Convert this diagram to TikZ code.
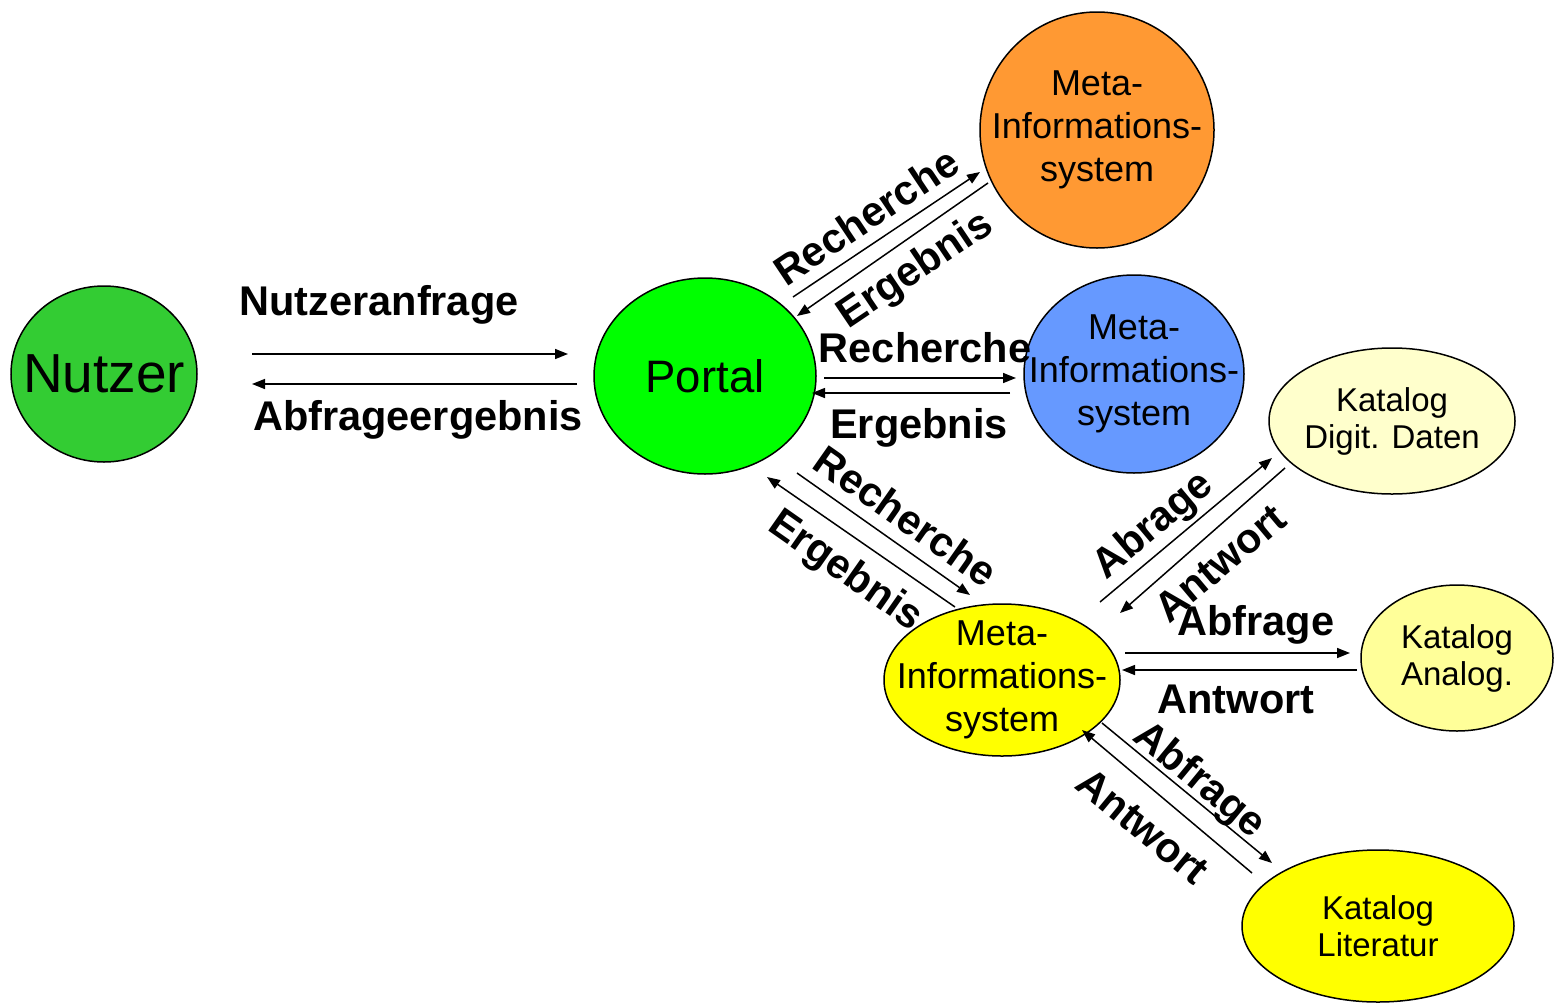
\documentclass[tikz,border=0pt]{standalone}
\usepackage{fontspec}
\setmainfont{Liberation Sans}
\usetikzlibrary{shapes.geometric,arrows.meta}
\definecolor{cNutzer}{HTML}{33CC33}
\definecolor{cPortal}{HTML}{00FF00}
\definecolor{cOrange}{HTML}{FF9933}
\definecolor{cBlue}{HTML}{6699FF}
\definecolor{cYellow}{HTML}{FFFF00}
\definecolor{cPale}{HTML}{FFFFCC}
\definecolor{cLight}{HTML}{FFFF99}
\tikzset{
  blob/.style={ellipse, draw=black, line width=1.5pt, inner sep=0pt},
  txt/.style={align=center, inner sep=0pt},
  metatext/.style={txt, font=\fontsize{36}{43}\selectfont},
  kattext/.style={txt, font=\fontsize{33}{37}\selectfont},
  lbl/.style={font=\bfseries\fontsize{41.5}{46}\selectfont, inner sep=0pt},
  conn/.style={line width=1.5pt, -{Triangle[length=13pt,width=10pt]}},
}
\begin{document}
\begin{tikzpicture}[x=1pt,y=-1pt]
\useasboundingbox (0,0) rectangle (1556,1002);
% shapes
\node[blob, fill=cNutzer, minimum width=186pt, minimum height=176pt] (nutzer) at (104,374) {};
\node[blob, fill=cPortal, minimum width=222pt, minimum height=196pt] (portal) at (705,376) {};
\node[blob, fill=cOrange, minimum width=234pt, minimum height=236pt] (mis1) at (1097,130) {};
\node[blob, fill=cBlue, minimum width=220pt, minimum height=198pt] (mis2) at (1134,374) {};
\node[blob, fill=cYellow, minimum width=236pt, minimum height=152pt] (mis3) at (1002,680) {};
\node[blob, fill=cPale, minimum width=246pt, minimum height=146pt] (kdig) at (1392,421) {};
\node[blob, fill=cLight, minimum width=192pt, minimum height=146pt] (kana) at (1457,658) {};
\node[blob, fill=cYellow, minimum width=272pt, minimum height=152pt] (klit) at (1378,926) {};
% texts
\node[txt, font=\fontsize{55}{60}\selectfont] (nutzer-t) at (nutzer) {Nutzer};
\node[txt, font=\fontsize{45.5}{52}\selectfont] (portal-t) at (portal) {Portal};
\node[metatext] (mis1-t) at (mis1) {Meta-\\Informations-\\system};
\node[metatext] (mis2-t) at (mis2) {Meta-\\Informations-\\system};
\node[metatext] (mis3-t) at (mis3) {Meta-\\Informations-\\system};
\node[kattext] (kdig-t) at (kdig) {Katalog\\Digit. Daten};
\node[kattext] (kana-t) at (kana) {Katalog\\Analog.};
\node[kattext] (klit-t) at (klit) {Katalog\\Literatur};

% connector end points
\coordinate (a1s) at (252,354); \coordinate (a1e) at (568,354);
\coordinate (a2s) at (577,384); \coordinate (a2e) at (252,384);
\coordinate (b1s) at (824,378); \coordinate (b1e) at (1016,378);
\coordinate (b2s) at (1010,393); \coordinate (b2e) at (812,393);
\coordinate (c1s) at (793,297); \coordinate (c1e) at (980,172);
\coordinate (c2s) at (988,183); \coordinate (c2e) at (797,316);
\coordinate (d1s) at (797,473); \coordinate (d1e) at (970,595);
\coordinate (d2s) at (955,607); \coordinate (d2e) at (767,477);
\coordinate (e1s) at (1100,602); \coordinate (e1e) at (1272,458);
\coordinate (e2s) at (1285,468); \coordinate (e2e) at (1120,613);
\coordinate (f1s) at (1125,653); \coordinate (f1e) at (1350,653);
\coordinate (f2s) at (1357,670); \coordinate (f2e) at (1122,670);
\coordinate (g1s) at (1102,723); \coordinate (g1e) at (1272,863);
\coordinate (g2s) at (1252,873); \coordinate (g2e) at (1082,730);

\draw[conn] (a1s) -- (a1e);
\draw[conn] (a2s) -- (a2e);
\draw[conn] (b1s) -- (b1e);
\draw[conn] (b2s) -- (b2e);
\draw[conn] (c1s) -- (c1e);
\draw[conn] (c2s) -- (c2e);
\draw[conn] (d1s) -- (d1e);
\draw[conn] (d2s) -- (d2e);
\draw[conn] (e1s) -- (e1e);
\draw[conn] (e2s) -- (e2e);
\draw[conn] (f1s) -- (f1e);
\draw[conn] (f2s) -- (f2e);
\draw[conn] (g1s) -- (g1e);
\draw[conn] (g2s) -- (g2e);

% labels
\node[lbl] (la1) at (379,305) {Nutzeranfrage};
\node[lbl] (la2) at (418,420) {Abfrageergebnis};
\node[lbl] (lb1) at (925,348) {Recherche};
\node[lbl] (lb2) at (919,428) {Ergebnis};
\node[lbl, rotate=33.8] (lc1) at (866,216) {Recherche};
\node[lbl, rotate=34] (lc2) at (916,271) {Ergebnis};
\node[lbl, rotate=-35] (ld1) at (906,516) {Recherche};
\node[lbl, rotate=-35] (ld2) at (845,572) {Ergebnis};
\node[lbl, rotate=40] (le1) at (1154,526) {Abrage};
\node[lbl, rotate=40] (le2) at (1220,563) {Antwort};
\node[lbl] (lf1) at (1256,625) {Abfrage};
\node[lbl] (lf2) at (1236,699) {Antwort};
\node[lbl, rotate=-39.5] (lg1) at (1199,781) {Abfrage};
\node[lbl, rotate=-39.5] (lg2) at (1143,826) {Antwort};
\end{tikzpicture}
\end{document}
